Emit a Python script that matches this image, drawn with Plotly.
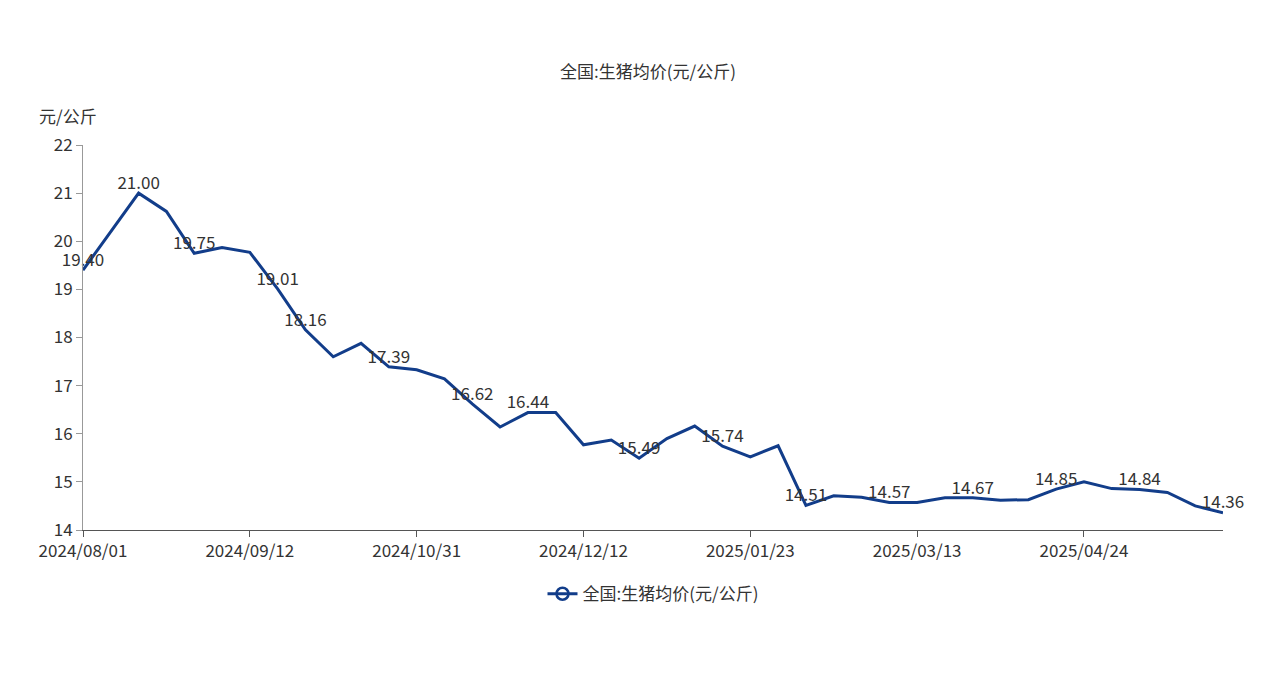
import plotly.graph_objects as go

dates = ["2024/08/01", "2024/08/08", "2024/08/15", "2024/08/22", "2024/08/29", "2024/09/05",
         "2024/09/12", "2024/09/19", "2024/09/26", "2024/10/10", "2024/10/17", "2024/10/24",
         "2024/10/31", "2024/11/07", "2024/11/14", "2024/11/21", "2024/11/28", "2024/12/05",
         "2024/12/12", "2024/12/19", "2024/12/26", "2025/01/02", "2025/01/09", "2025/01/16",
         "2025/01/23", "2025/02/06", "2025/02/13", "2025/02/20", "2025/02/27", "2025/03/06",
         "2025/03/13", "2025/03/20", "2025/03/27", "2025/04/03", "2025/04/10", "2025/04/17",
         "2025/04/24", "2025/05/01", "2025/05/08", "2025/05/15", "2025/05/22", "2025/05/29"]
prices = [19.40, 20.20, 21.00, 20.62, 19.75, 19.87, 19.77, 19.01, 18.16, 17.60, 17.88, 17.39,
          17.33, 17.14, 16.62, 16.14, 16.44, 16.44, 15.77, 15.87, 15.49, 15.90, 16.16, 15.74,
          15.52, 15.75, 14.51, 14.71, 14.68, 14.57, 14.57, 14.67, 14.67, 14.62, 14.63, 14.85,
          15.00, 14.86, 14.84, 14.78, 14.50, 14.36]
labeled = [0, 2, 4, 7, 8, 11, 14, 16, 20, 23, 26, 29, 32, 35, 38, 41]
tick_dates = ["2024/08/01", "2024/09/12", "2024/10/31", "2024/12/12", "2025/01/23", "2025/03/13", "2025/04/24"]

font = "Noto Sans CJK SC"
blue = "#123d8a"
labels = [f"{v:.2f}" if i in labeled else "" for i, v in enumerate(prices)]

fig = go.Figure(go.Scatter(
    x=dates, y=prices, mode="lines+text", text=labels, textposition="top center",
    textfont=dict(size=17, color="#333"), line=dict(color=blue, width=3),
    name="全国:生猪均价(元/公斤)", cliponaxis=False, showlegend=False))
# legend entry with open circle marker
fig.add_trace(go.Scatter(x=[None], y=[None], mode="lines+markers", name="全国:生猪均价(元/公斤)",
                         line=dict(color=blue, width=3),
                         marker=dict(symbol="circle-open", size=12, color=blue, line=dict(width=2.5))))

fig.update_layout(
    width=1280, height=685, plot_bgcolor="white", paper_bgcolor="white",
    font=dict(family=font, size=17, color="#333"),
    title=dict(text="全国:生猪均价(元/公斤)", x=0.5, y=0.915, xanchor="center", font=dict(size=17)),
    margin=dict(l=75, r=65, t=137, b=163, autoexpand=False),
    showlegend=True,
    legend=dict(orientation="h", x=0.5, xanchor="center", y=-0.12, yanchor="top", font=dict(size=17)),
    xaxis=dict(type="category", range=[0, len(dates) - 1], tickmode="array", tickvals=tick_dates,
               ticktext=tick_dates, showline=True, linecolor="#555", ticks="outside",
               ticklen=6, tickcolor="#555", showgrid=False, automargin=False),
    yaxis=dict(range=[14, 22], dtick=1, showline=True, linecolor="#999", ticks="outside",
               ticklen=6, tickcolor="#999", showgrid=False, zeroline=False, automargin=False),
    annotations=[dict(text="元/公斤", xref="paper", yref="paper", x=-0.04, y=1.04,
                      xanchor="left", yanchor="bottom", showarrow=False, font=dict(size=17))],
)

fig.write_html("out.html")
